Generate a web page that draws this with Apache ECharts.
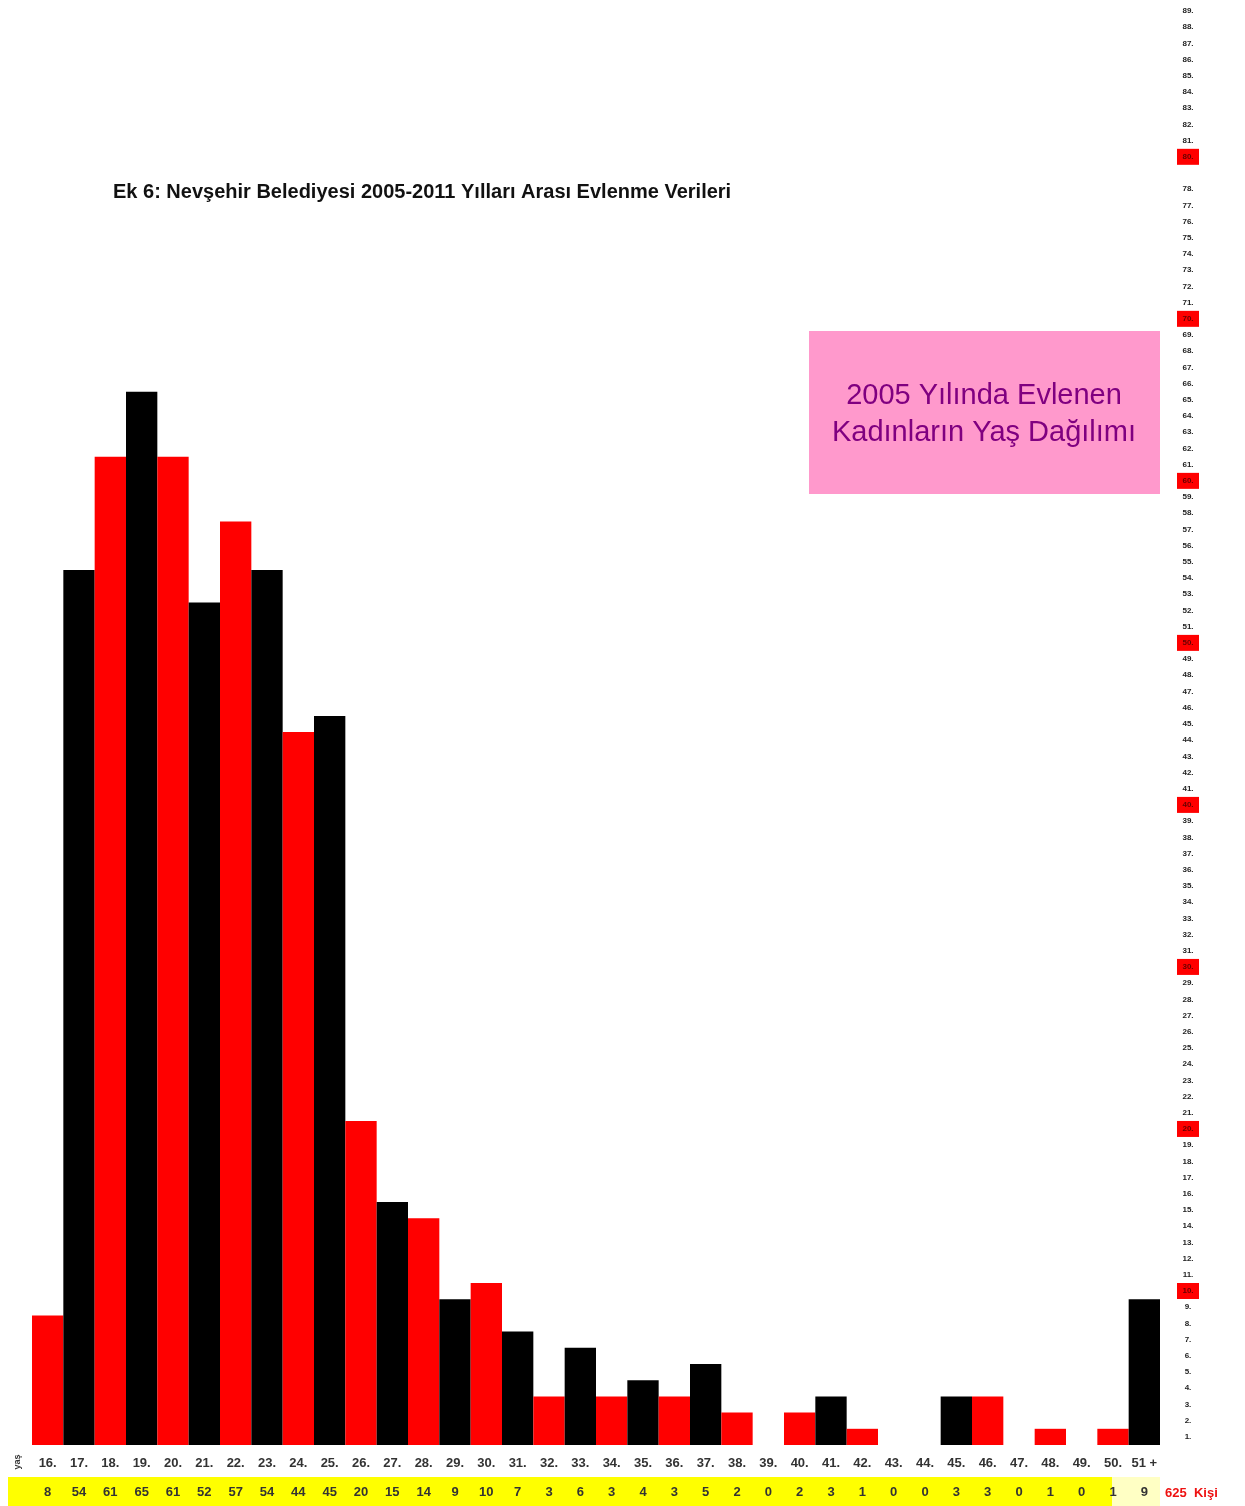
<!DOCTYPE html>
<html>
<head>
<meta charset="utf-8">
<script src="https://cdn.jsdelivr.net/npm/echarts@6/dist/echarts.min.js"></script>
<style>
  html, body { margin: 0; padding: 0; background: #fff; }
  #chart { width: 1245px; height: 1506px; }
</style>
</head>
<body>
<div id="chart"></div>
<script>
// yaş grupları (x ekseni)
const ages = ['16.', '17.', '18.', '19.', '20.', '21.', '22.', '23.', '24.', '25.', '26.', '27.',
  '28.', '29.', '30.', '31.', '32.', '33.', '34.', '35.', '36.', '37.', '38.', '39.', '40.',
  '41.', '42.', '43.', '44.', '45.', '46.', '47.', '48.', '49.', '50.', '51 +'];
// kişi sayıları
const counts = [8, 54, 61, 65, 61, 52, 57, 54, 44, 45, 20, 15, 14, 9, 10, 7, 3, 6, 3, 4, 3, 5,
  2, 0, 2, 3, 1, 0, 0, 3, 3, 0, 1, 0, 1, 9];
// sağ eksen: kırmızı kutulu ve görünmeyen etiketler
const redTicks = [10, 20, 30, 40, 50, 60, 70, 80];
const hiddenTicks = [0, 79];
const axisMax = 89;

const total = counts.reduce((a, b) => a + b, 0);

const chart = echarts.init(document.getElementById('chart'));

const option = {
  animation: false,
  backgroundColor: '#fff',
  grid: { left: 32, right: 85, top: 3, bottom: 61 },
  xAxis: [
    {
      type: 'category',
      data: ages,
      position: 'bottom',
      axisLine: { show: false },
      axisTick: { show: false },
      axisLabel: {
        interval: 0,
        margin: 12,
        fontFamily: 'Liberation Sans, Arial, sans-serif',
        fontWeight: 'bold',
        fontSize: 13,
        color: '#333'
      }
    },
    {
      type: 'category',
      data: ages,
      position: 'bottom',
      offset: 29,
      axisLine: { show: false },
      axisTick: { show: false },
      axisLabel: {
        interval: 0,
        margin: 12,
        fontFamily: 'Liberation Sans, Arial, sans-serif',
        fontWeight: 'bold',
        fontSize: 13,
        color: '#333',
        formatter: (v, i) => String(counts[i])
      }
    }
  ],
  yAxis: {
    type: 'value',
    position: 'right',
    min: 0,
    max: axisMax,
    interval: 1,
    axisLine: { show: false },
    axisTick: { show: false },
    splitLine: { show: false },
    axisLabel: {
      margin: 17,
      align: 'left',
      verticalAlign: 'top',
      formatter: function (v) {
        if (hiddenTicks.indexOf(v) >= 0) return '';
        return (redTicks.indexOf(v) >= 0 ? '{r|' : '{n|') + v + '.}';
      },
      rich: {
        n: {
          width: 22, height: 16, lineHeight: 16, align: 'center',
          fontSize: 8, fontWeight: 'bold', color: '#222',
          fontFamily: 'Liberation Sans, Arial, sans-serif'
        },
        r: {
          width: 22, height: 16, lineHeight: 16, align: 'center',
          fontSize: 8, fontWeight: 'bold', color: '#600',
          backgroundColor: '#ff0000',
          fontFamily: 'Liberation Sans, Arial, sans-serif'
        }
      }
    }
  },
  series: [
    {
      type: 'bar',
      data: counts,
      barWidth: '100%',
      barCategoryGap: '0%',
      itemStyle: {
        color: p => (p.dataIndex % 2 === 0 ? '#ff0000' : '#000000')
      }
    }
  ],
  graphic: [
    // sarı bant
    { type: 'rect', z: -1, shape: { x: 8, y: 1477, width: 1104, height: 29 }, style: { fill: '#ffff00' } },
    { type: 'rect', z: -1, shape: { x: 1112, y: 1477, width: 48, height: 29 }, style: { fill: '#ffffc4' } },
    {
      type: 'text', x: 1165, y: 1493,
      style: {
        text: total + '  Kişi', fill: '#ee1111', fontSize: 13, fontWeight: 'bold',
        fontFamily: 'Liberation Sans, Arial, sans-serif', verticalAlign: 'middle'
      }
    },
    {
      type: 'text', x: 18, y: 1462, rotation: Math.PI / 2,
      style: {
        text: 'yaş', fill: '#333', fontSize: 9, fontWeight: 'bold',
        fontFamily: 'Liberation Sans, Arial, sans-serif', align: 'center', verticalAlign: 'middle'
      }
    },
    {
      type: 'text', x: 113, y: 192,
      style: {
        text: 'Ek 6: Nevşehir Belediyesi 2005-2011 Yılları Arası Evlenme Verileri',
        fill: '#111', fontSize: 20, fontWeight: 'bold',
        fontFamily: 'Liberation Sans, Arial, sans-serif', verticalAlign: 'middle'
      }
    },
    { type: 'rect', shape: { x: 809, y: 331, width: 351, height: 163 }, style: { fill: '#ff99cc' } },
    {
      type: 'text', x: 984, y: 414,
      style: {
        text: '2005 Yılında Evlenen\nKadınların Yaş Dağılımı',
        fill: '#800080', fontSize: 29, lineHeight: 37,
        fontFamily: 'Liberation Sans, Arial, sans-serif', align: 'center', verticalAlign: 'middle'
      }
    }
  ]
};

chart.setOption(option);
</script>
</body>
</html>
